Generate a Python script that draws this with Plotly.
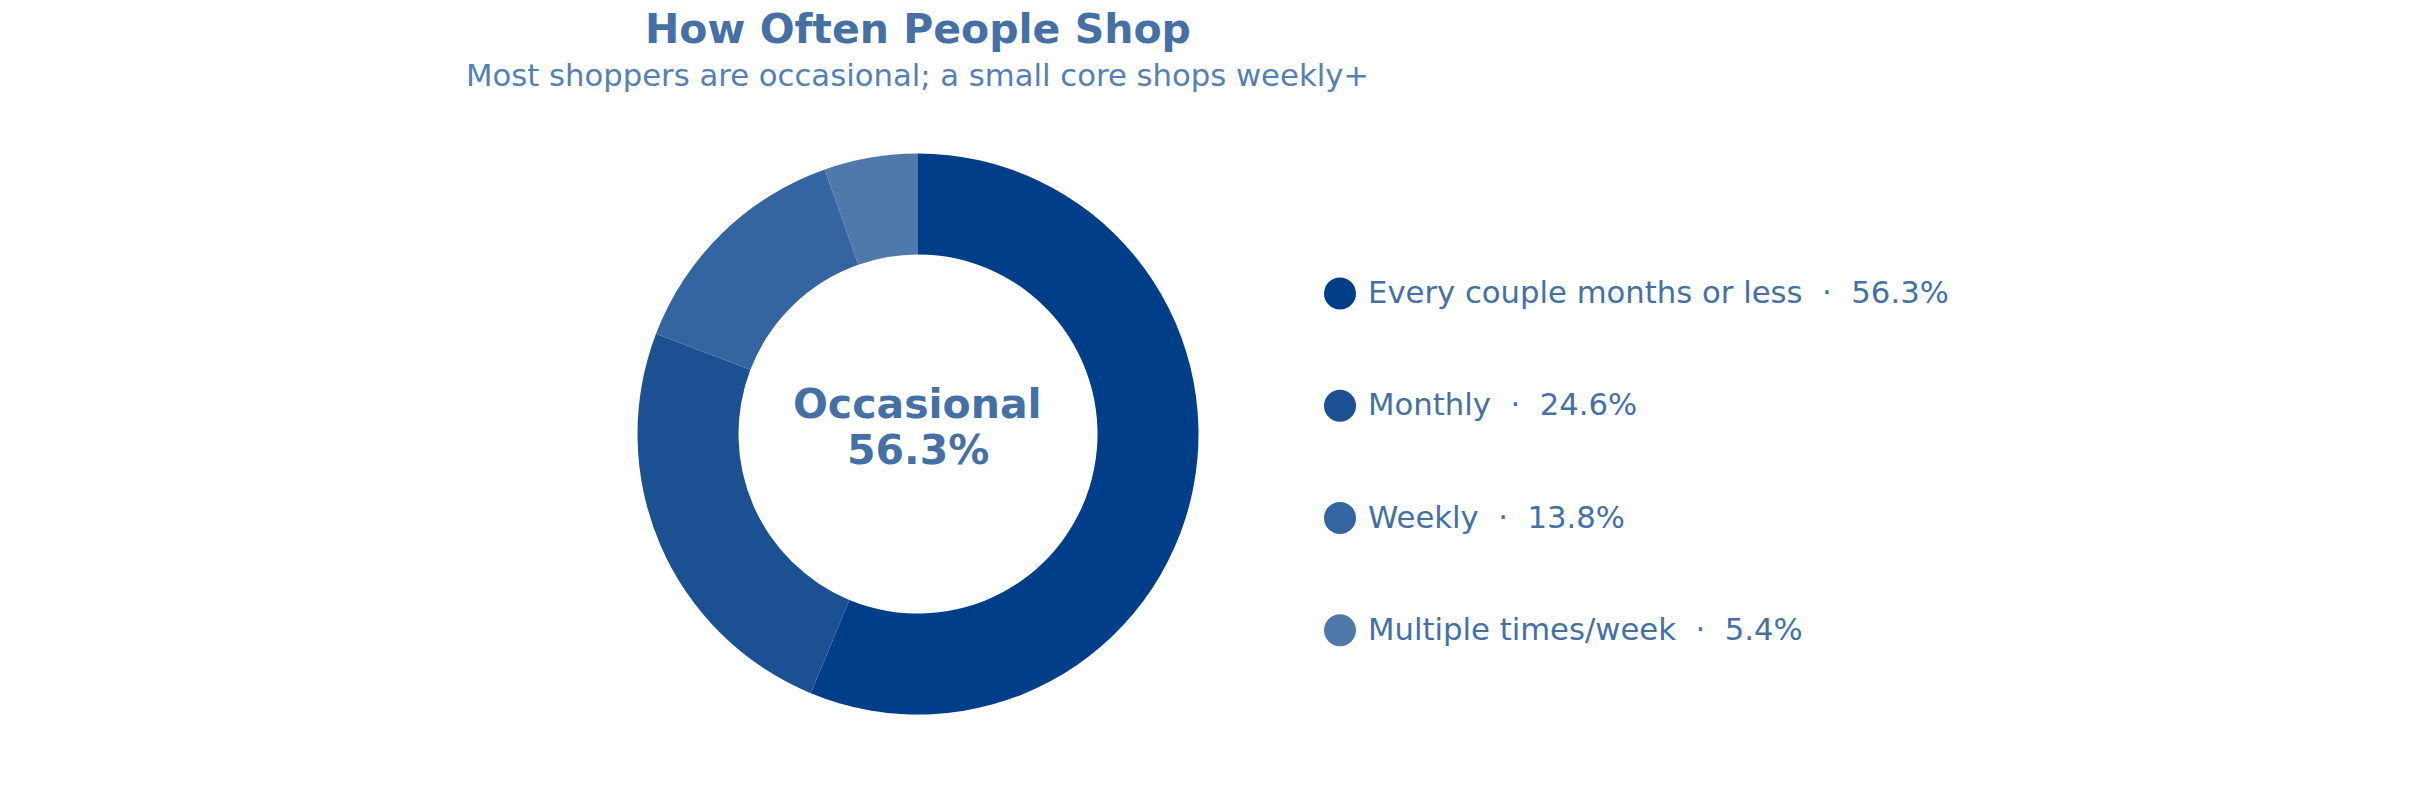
import plotly.graph_objects as go

# ---- data ----
categories = ["Every couple months or less", "Monthly", "Weekly", "Multiple times/week"]
shares = [56.3, 24.6, 13.8, 5.4]
colors = ["#013e89", "#1b5092", "#3465a0", "#4f79ab"]
center_label = "Occasional"
title_text = "How Often People Shop"
subtitle_text = "Most shoppers are occasional; a small core shops weekly+"

W, H = 2416, 798
FONT = "DejaVu Sans"
TXT = "#4470a5"
SUB = "#5580b4"

# pie geometry (paper fractions)
pie_cx, pie_cy, pie_r = 918, 434, 280.5
dom_x = [(pie_cx - 360) / W, (pie_cx + 360) / W]
dom_y = [1 - (pie_cy + pie_r) / H, 1 - (pie_cy - pie_r) / H]
mid_x = sum(dom_x) / 2

fig = go.Figure()
fig.add_trace(go.Pie(
    labels=categories, values=shares, hole=0.64, sort=False, direction="clockwise",
    rotation=0, marker=dict(colors=colors, line=dict(width=0)),
    textinfo="none", hoverinfo="label+percent", showlegend=False,
    domain=dict(x=dom_x, y=dom_y),
))

# legend built as scatter markers on hidden axes
rows = list(range(len(categories)))
fig.add_trace(go.Scatter(
    x=[0] * len(categories), y=rows, mode="markers",
    marker=dict(size=32, color=colors, line=dict(width=0)),
    xaxis="x2", yaxis="y2", showlegend=False, hoverinfo="skip", cliponaxis=False,
))

# axis mapping: x=0 -> px 1340 ; row spacing 112.27 px, first row at 293.5 px
leg_x0 = 1340
ax_dom = [0.5, 1.0]
frac = (leg_x0 - ax_dom[0] * W) / ((ax_dom[1] - ax_dom[0]) * W)
row_px, row0 = 112.27, 293.5
y_top = -row0 / row_px
y_bot = y_top + H / row_px

fig.update_layout(
    width=W, height=H, margin=dict(l=0, r=0, t=0, b=0),
    paper_bgcolor="white", plot_bgcolor="rgba(0,0,0,0)",
    font=dict(family=FONT, color=TXT),
    xaxis2=dict(domain=ax_dom, range=[-frac, 1 - frac], visible=False, fixedrange=True),
    yaxis2=dict(domain=[0, 1], range=[y_bot, y_top], visible=False, fixedrange=True, anchor="x2"),
)

annotations = []
for i, (c, v) in enumerate(zip(categories, shares)):
    annotations.append(dict(
        x=0, y=i, xref="x2", yref="y2", xanchor="left", yanchor="middle",
        xshift=26, yshift=1, text=f"{c}  \u00b7  {v:.1f}%", showarrow=False,
        font=dict(family=FONT, size=30.7, color=TXT),
    ))

# center label
annotations.append(dict(
    x=mid_x, y=1 - 403.5 / H, xref="paper", yref="paper", xanchor="center", yanchor="middle",
    text=f"<b>{center_label}</b>", showarrow=False, font=dict(family=FONT, size=41, color=TXT),
))
annotations.append(dict(
    x=mid_x, y=1 - 449.5 / H, xref="paper", yref="paper", xanchor="center", yanchor="middle",
    text=f"<b>{shares[0]:.1f}%</b>", showarrow=False, font=dict(family=FONT, size=41, color=TXT),
))
# title & subtitle
annotations.append(dict(
    x=mid_x, y=1 - 29 / H, xref="paper", yref="paper", xanchor="center", yanchor="middle",
    text=f"<b>{title_text}</b>", showarrow=False, font=dict(family=FONT, size=41, color=TXT),
))
annotations.append(dict(
    x=mid_x, y=1 - 75.5 / H, xref="paper", yref="paper", xanchor="center", yanchor="middle",
    text=subtitle_text, showarrow=False, font=dict(family=FONT, size=30.7, color=SUB),
))
fig.update_layout(annotations=annotations)

fig.write_html("out.html", config=dict(displayModeBar=False))
